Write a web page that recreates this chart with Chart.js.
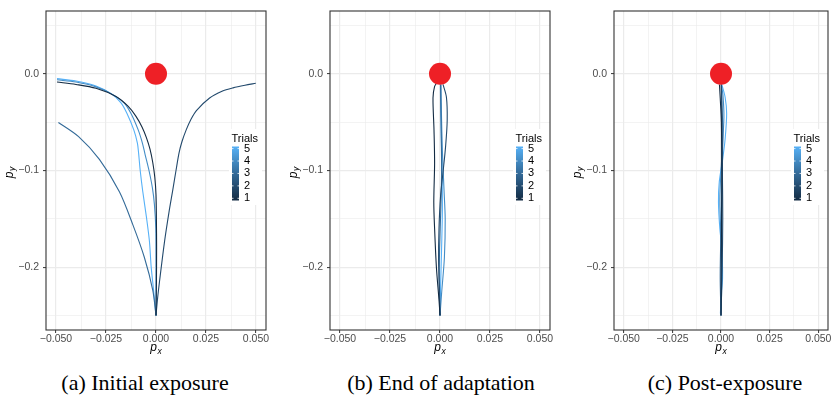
<!DOCTYPE html>
<html>
<head>
<meta charset="utf-8">
<script src="https://cdn.jsdelivr.net/npm/chart.js@4.4.1/dist/chart.umd.min.js"></script>
<style>
html, body { margin:0; padding:0; background:#ffffff; }
body { position:relative; width:839px; height:404px; overflow:hidden; }
.panel { position:absolute; top:0; }
.cap { position:absolute; top:370px; font-family:"Liberation Serif","DejaVu Serif","Times New Roman",serif; font-size:22px; line-height:26px; color:#000; white-space:nowrap; transform:translateX(-50%); }
</style>
</head>
<body>
<canvas id="pa" class="panel" width="280" height="360" style="left:0px"></canvas>
<canvas id="pb" class="panel" width="280" height="360" style="left:284px"></canvas>
<canvas id="pc" class="panel" width="271" height="360" style="left:568px"></canvas>
<div class="cap" style="left:145px">(a) Initial exposure</div>
<div class="cap" style="left:441px">(b) End of adaptation</div>
<div class="cap" style="left:725px">(c) Post-exposure</div>
<script>
// ---------- data ----------
const trials = [1, 2, 3, 4, 5];
const trialColors = ['#132B43', '#234A6D', '#336A98', '#448DC6', '#56B1F7'];
const targetPoint = [0, 0];
const xLimits = [-0.055, 0.055];
const yLimits = [-0.265, 0.065];
const xMajorTicks = [-0.05, -0.025, 0, 0.025, 0.05];
const xTickLabels = ['\u22120.050', '\u22120.025', '0.000', '0.025', '0.050'];
const xMinorTicks = [-0.0375, -0.0125, 0.0125, 0.0375];
const yMajorTicks = [-0.2, -0.1, 0];
const yTickLabels = ['\u22120.2', '\u22120.1', '0.0'];
const yMinorTicks = [-0.25, -0.15, -0.05, 0.05];
const legendValues = [1, 2, 3, 4, 5];
const legendTitle = 'Trials';

// (a) Initial exposure
const initial_t1 = [[0,-0.25],[0.0002,-0.22],[0.0003,-0.18],[0.0002,-0.15],[0.0,-0.125],[-0.0006,-0.107],[-0.0016,-0.092],[-0.0030,-0.078],[-0.0048,-0.066],[-0.0070,-0.055],[-0.0100,-0.044],[-0.0140,-0.0335],[-0.0200,-0.0235],[-0.0300,-0.015],[-0.0400,-0.011],[-0.0495,-0.0085]];
const initial_t2 = [[0,-0.25],[0.0008,-0.232],[0.0018,-0.214],[0.0043,-0.173],[0.0065,-0.143],[0.0084,-0.12],[0.0100,-0.1],[0.0115,-0.082],[0.0130,-0.07],[0.0151,-0.058],[0.0175,-0.047],[0.0202,-0.038],[0.0268,-0.025],[0.0330,-0.018],[0.0385,-0.0145],[0.0445,-0.0118],[0.0499,-0.0098]];
const initial_t3 = [[0,-0.25],[-0.0016,-0.224],[-0.0058,-0.19],[-0.0116,-0.156],[-0.0183,-0.122],[-0.0283,-0.0885],[-0.0387,-0.065],[-0.0488,-0.0503]];
const initial_t4 = [[0,-0.25],[0,-0.2],[-0.0001,-0.16],[-0.0008,-0.135],[-0.0018,-0.118],[-0.0035,-0.1],[-0.0055,-0.083],[-0.0068,-0.0716],[-0.0089,-0.058],[-0.0125,-0.041],[-0.0160,-0.030],[-0.0215,-0.0215],[-0.030,-0.0135],[-0.040,-0.0085],[-0.0495,-0.0062]];
const initial_t5 = [[0,-0.25],[-0.0012,-0.224],[-0.0024,-0.2],[-0.0033,-0.173],[-0.0048,-0.148],[-0.0066,-0.122],[-0.0079,-0.1],[-0.0087,-0.082],[-0.0093,-0.0716],[-0.0111,-0.058],[-0.0145,-0.041],[-0.0175,-0.030],[-0.0225,-0.0205],[-0.030,-0.0125],[-0.040,-0.0075],[-0.0495,-0.0050]];

// (b) End of adaptation
const adapt_t1 = [[0,-0.25],[-0.0005,-0.234],[-0.0018,-0.2],[-0.0027,-0.16],[-0.0031,-0.133],[-0.0027,-0.092],[-0.0030,-0.058],[-0.0035,-0.025],[-0.0027,-0.013],[-0.0015,-0.009]];
const adapt_t2 = [[0,-0.25],[-0.0002,-0.227],[-0.0007,-0.194],[-0.0005,-0.16],[0.0003,-0.126],[0.0015,-0.102],[0.0028,-0.075],[0.0036,-0.048],[0.0032,-0.024],[0.0015,-0.011]];
const adapt_t3 = [[0,-0.25],[-0.0004,-0.22],[-0.0002,-0.18],[0.0004,-0.14],[0.0008,-0.1],[0.0006,-0.06],[0.0004,-0.03],[0.0003,-0.011]];
const adapt_t4 = [[0,-0.25],[0.0008,-0.227],[0.0022,-0.19],[0.0026,-0.15],[0.0020,-0.12],[0.0012,-0.08],[0.0007,-0.04],[0.0005,-0.011]];
const adapt_t5 = [[0,-0.25],[0.0003,-0.22],[0.0008,-0.18],[0.0012,-0.14],[0.0010,-0.1],[0.0006,-0.06],[0.0003,-0.03],[0.0002,-0.011]];

// (c) Post-exposure
const post_t1 = [[0,-0.25],[0.0001,-0.2],[0.0003,-0.15],[0.0004,-0.1],[0.0002,-0.05],[-0.0004,-0.025],[-0.0008,-0.011]];
const post_t2 = [[0,-0.25],[0.0006,-0.2],[0.0009,-0.15],[0.0007,-0.1],[0.0004,-0.05],[0.0002,-0.011]];
const post_t3 = [[0,-0.25],[-0.0004,-0.21],[0,-0.16],[0.0006,-0.11],[0.0009,-0.06],[0.0005,-0.03],[0.0001,-0.011]];
const post_t4 = [[0,-0.25],[0.0004,-0.215],[0.0002,-0.18],[-0.0006,-0.13],[0.0003,-0.09],[0.0015,-0.045],[0.0010,-0.022],[0.0002,-0.011]];
const post_t5 = [[-0.0003,-0.248],[0.0001,-0.228],[0.0008,-0.211],[0.0004,-0.18],[-0.0006,-0.16],[-0.0013,-0.133],[-0.0009,-0.112],[0.0008,-0.089],[0.0021,-0.068],[0.0029,-0.041],[0.0021,-0.024],[0.0004,-0.011]];

// ---------- rendering ----------
const panelSpecs = [
  { id: 'pa', series: [initial_t1, initial_t2, initial_t3, initial_t4, initial_t5], padRight: 14 },
  { id: 'pb', series: [adapt_t1, adapt_t2, adapt_t3, adapt_t4, adapt_t5], padRight: 14 },
  { id: 'pc', series: [post_t1, post_t2, post_t3, post_t4, post_t5], padRight: 5 }
];

const SANS = '"Liberation Sans", Arial, Helvetica, sans-serif';
const near = (a, b) => Math.abs(a - b) < 1e-9;
const isMajor = (list, v) => list.some(m => near(m, v));
const labelFor = (list, labels, v) => { const i = list.findIndex(m => near(m, v)); return i >= 0 ? labels[i] : ''; };

function drawSubTitle(ctx, main, sub, x, y, rotate) {
  ctx.save();
  ctx.translate(x, y);
  if (rotate) ctx.rotate(-Math.PI / 2);
  ctx.fillStyle = '#000000';
  ctx.textBaseline = 'alphabetic';
  ctx.textAlign = 'left';
  const f1 = 'italic 12px ' + SANS, f2 = 'italic 8.5px ' + SANS;
  ctx.font = f1; const w1 = ctx.measureText(main).width;
  ctx.font = f2; const w2 = ctx.measureText(sub).width;
  const total = w1 + w2 + 0.5;
  ctx.font = f1; ctx.fillText(main, -total / 2, 0);
  ctx.font = f2; ctx.fillText(sub, -total / 2 + w1 + 0.5, 2.6);
  ctx.restore();
}

const decorPlugin = {
  id: 'decor',
  afterDatasetsDraw(chart) {
    const ctx = chart.ctx, a = chart.chartArea;
    const barL = a.right - 34, barW = 7;
    const barTop = 146.5, barBot = 200.5;
    const v1y = 198.3, v5y = 148.6;
    const yFor = v => v1y + (v - legendValues[0]) * (v5y - v1y) / (legendValues[legendValues.length - 1] - legendValues[0]);
    ctx.save();
    ctx.fillStyle = '#ffffff';
    ctx.fillRect(barL - 3, 129, 33, 76);
    const g = ctx.createLinearGradient(0, barBot, 0, barTop);
    trialColors.forEach((c, i) => g.addColorStop(i / (trialColors.length - 1), c));
    ctx.fillStyle = g;
    ctx.fillRect(barL, barTop, barW, barBot - barTop);
    ctx.strokeStyle = '#ffffff';
    ctx.lineWidth = 0.8;
    legendValues.forEach(v => {
      const y = yFor(v);
      ctx.beginPath();
      ctx.moveTo(barL, y); ctx.lineTo(barL + 1.5, y);
      ctx.moveTo(barL + barW - 1.5, y); ctx.lineTo(barL + barW, y);
      ctx.stroke();
    });
    ctx.fillStyle = '#000000';
    ctx.font = '11px ' + SANS;
    ctx.textAlign = 'left';
    ctx.textBaseline = 'middle';
    legendValues.forEach(v => ctx.fillText(String(v), barL + 12, yFor(v)));
    ctx.textBaseline = 'alphabetic';
    ctx.fillText(legendTitle, barL - 0.5, 141.5);
    ctx.strokeStyle = '#333333';
    ctx.lineWidth = 1.1;
    ctx.strokeRect(a.left, a.top, a.right - a.left, a.bottom - a.top);
    ctx.restore();
  },
  afterDraw(chart) {
    const ctx = chart.ctx, a = chart.chartArea;
    drawSubTitle(ctx, 'p', 'x', (a.left + a.right) / 2, 351, false);
    drawSubTitle(ctx, 'p', 'y', 12.5, (a.top + a.bottom) / 2 + 2, true);
  }
};

function makePanel(spec) {
  const datasets = [{
    label: 'target',
    data: [{ x: targetPoint[0], y: targetPoint[1] }],
    showLine: false,
    pointRadius: 11,
    pointHoverRadius: 11,
    pointBackgroundColor: '#EE2026',
    pointBorderWidth: 0,
    borderWidth: 0
  }];
  spec.series.forEach((pts, i) => {
    datasets.push({
      label: 'Trial ' + trials[i],
      data: pts.map(p => ({ x: p[0], y: p[1] })),
      showLine: true,
      borderColor: trialColors[i],
      borderWidth: 1.1,
      pointRadius: 0,
      pointHoverRadius: 0,
      tension: 0.3,
      fill: false
    });
  });
  const xAll = xMajorTicks.concat(xMinorTicks).sort((p, q) => p - q);
  const yAll = yMajorTicks.concat(yMinorTicks).sort((p, q) => p - q);
  new Chart(document.getElementById(spec.id), {
    type: 'scatter',
    data: { datasets },
    options: {
      responsive: false,
      animation: false,
      events: [],
      layout: { padding: { left: 0, right: spec.padRight, top: 5, bottom: 0 } },
      plugins: { legend: { display: false }, tooltip: { enabled: false } },
      scales: {
        x: {
          type: 'linear', min: xLimits[0], max: xLimits[1],
          afterBuildTicks: s => { s.ticks = xAll.map(v => ({ value: v })); },
          afterFit: s => { s.height = 30; },
          ticks: {
            autoSkip: false, maxRotation: 0, minRotation: 0,
            padding: 0.5,
            color: '#4D4D4D',
            font: { family: SANS, size: 10.5, lineHeight: 1 },
            callback: v => labelFor(xMajorTicks, xTickLabels, v)
          },
          grid: {
            color: '#EBEBEB',
            lineWidth: c => (c.tick && isMajor(xMajorTicks, c.tick.value)) ? 1.2 : 0.6,
            tickLength: 3,
            tickColor: c => (c.tick && isMajor(xMajorTicks, c.tick.value)) ? '#333333' : 'rgba(0,0,0,0)',
            tickWidth: 1
          },
          border: { display: false }
        },
        y: {
          type: 'linear', min: yLimits[0], max: yLimits[1],
          afterBuildTicks: s => { s.ticks = yAll.map(v => ({ value: v })); },
          afterFit: s => { s.width = 46; },
          ticks: {
            autoSkip: false,
            padding: 4,
            color: '#4D4D4D',
            font: { family: SANS, size: 10.5, lineHeight: 1 },
            callback: v => labelFor(yMajorTicks, yTickLabels, v)
          },
          grid: {
            color: '#EBEBEB',
            lineWidth: c => (c.tick && isMajor(yMajorTicks, c.tick.value)) ? 1.2 : 0.6,
            tickLength: 3,
            tickColor: c => (c.tick && isMajor(yMajorTicks, c.tick.value)) ? '#333333' : 'rgba(0,0,0,0)',
            tickWidth: 1
          },
          border: { display: false }
        }
      }
    },
    plugins: [decorPlugin]
  });
}

panelSpecs.forEach(makePanel);
</script>
</body>
</html>
